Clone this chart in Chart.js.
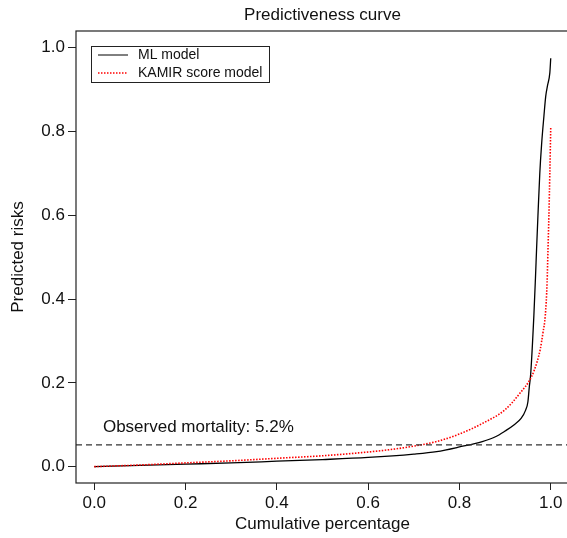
<!DOCTYPE html>
<html>
<head>
<meta charset="utf-8">
<title>Predictiveness curve</title>
<script src="https://cdn.jsdelivr.net/npm/chart.js@4/dist/chart.umd.min.js"></script>
<style>
  html, body { margin: 0; padding: 0; background: #fff; overflow: hidden; }
  #wrap { width: 567px; height: 538px; overflow: hidden; position: relative; }
  canvas { display: block; }
</style>
</head>
<body>
<div id="wrap"><canvas id="chart" width="600" height="538"></canvas></div>
<script>
// Predictiveness curves: x = cumulative percentage, y = predicted risk
const mlX = [0, 0.1, 0.2, 0.3, 0.4, 0.5, 0.6, 0.7, 0.75, 0.8, 0.85, 0.88, 0.9, 0.92, 0.935, 0.945,
             0.95, 0.953, 0.956, 0.963, 0.9665, 0.969, 0.972, 0.976, 0.98, 0.985, 0.989, 0.993, 0.998, 1.0];
const mlY = [0, 0.003, 0.006, 0.009, 0.013, 0.017, 0.022, 0.030, 0.036, 0.047, 0.060, 0.072, 0.085, 0.100, 0.115, 0.135,
             0.155, 0.19, 0.22, 0.36, 0.45, 0.52, 0.60, 0.70, 0.77, 0.836, 0.884, 0.91, 0.94, 0.975];

const kamirX = [0, 0.1, 0.2, 0.3, 0.4, 0.5, 0.6, 0.65, 0.7, 0.75, 0.8, 0.85, 0.9, 0.93, 0.958,
                0.97, 0.977, 0.983, 0.988, 0.992, 0.994, 0.996, 0.998, 1.0];
const kamirY = [0, 0.004, 0.009, 0.014, 0.020, 0.026, 0.035, 0.041, 0.049, 0.060, 0.078, 0.103, 0.136, 0.172, 0.215,
                0.25, 0.28, 0.32, 0.36, 0.44, 0.52, 0.60, 0.70, 0.81];

const observedMortality = 0.052;
const xTicks = [0, 0.2, 0.4, 0.6, 0.8, 1.0];
const yTicks = [0, 0.2, 0.4, 0.6, 0.8, 1.0];

const FONT = "'Liberation Sans', Arial, Helvetica, sans-serif";
const INK = "#111";

function pts(xs, ys) { return xs.map((x, i) => ({ x, y: ys[i] })); }

// box, title, axis titles, legend and the mortality note, base-R style
const decorations = {
  id: "decorations",
  afterDraw(chart) {
    const { ctx, chartArea: a, scales } = chart;
    ctx.save();
    ctx.strokeStyle = "#222";
    ctx.lineWidth = 1.2;
    ctx.strokeRect(a.left, a.top, a.right - a.left, a.bottom - a.top);

    ctx.fillStyle = INK;
    ctx.textAlign = "center";
    ctx.textBaseline = "middle";
    ctx.font = `17px ${FONT}`;
    ctx.fillText("Predictiveness curve", (a.left + a.right) / 2, 15);
    ctx.fillText("Cumulative percentage", (a.left + a.right) / 2, 524);

    ctx.save();
    ctx.translate(18, (a.top + a.bottom) / 2);
    ctx.rotate(-Math.PI / 2);
    ctx.fillText("Predicted risks", 0, 0);
    ctx.restore();

    ctx.textAlign = "left";
    ctx.fillText("Observed mortality: 5.2%",
      scales.x.getPixelForValue(0.019), scales.y.getPixelForValue(0.095));

    // legend
    ctx.strokeStyle = "#222";
    ctx.lineWidth = 1;
    ctx.strokeRect(91.5, 46.5, 178, 36);
    ctx.font = `14px ${FONT}`;
    ctx.beginPath();
    ctx.strokeStyle = "#000";
    ctx.moveTo(98, 55); ctx.lineTo(128, 55);
    ctx.stroke();
    ctx.beginPath();
    ctx.strokeStyle = "#ff0000";
    ctx.lineWidth = 1.4;
    ctx.setLineDash([1.5, 1.5]);
    ctx.moveTo(98, 73); ctx.lineTo(128, 73);
    ctx.stroke();
    ctx.setLineDash([]);
    ctx.fillText("ML model", 138, 55);
    ctx.fillText("KAMIR score model", 138, 73);
    ctx.restore();
  },
};

new Chart(document.getElementById("chart"), {
  type: "scatter",
  data: {
    datasets: [
      {
        label: "Observed mortality",
        data: [{ x: -0.04, y: observedMortality }, { x: 1.04, y: observedMortality }],
        showLine: true,
        borderColor: "#333",
        borderWidth: 1.2,
        borderDash: [6, 4],
        pointRadius: 0,
      },
      {
        label: "KAMIR score model",
        data: pts(kamirX, kamirY),
        showLine: true,
        borderColor: "#ff0000",
        borderWidth: 1.6,
        borderDash: [1.5, 1.5],
        cubicInterpolationMode: "monotone",
        pointRadius: 0,
      },
      {
        label: "ML model",
        data: pts(mlX, mlY),
        showLine: true,
        borderColor: "#000",
        borderWidth: 1.3,
        cubicInterpolationMode: "monotone",
        pointRadius: 0,
      },
    ],
  },
  options: {
    responsive: false,
    animation: false,
    layout: { padding: { top: 31, right: 31, left: 0, bottom: 0 } },
    plugins: { legend: { display: false }, tooltip: { enabled: false } },
    scales: {
      x: {
        type: "linear",
        min: -0.04,
        max: 1.04,
        afterFit: (s) => { s.height = 55; },
        afterBuildTicks: (s) => { s.ticks = xTicks.map(v => ({ value: v })); },
        border: { display: false },
        grid: { drawOnChartArea: false, drawTicks: true, tickLength: 7, color: "#222" },
        ticks: {
          color: INK,
          font: { family: FONT, size: 17 },
          padding: 3,
          maxRotation: 0,
          callback: (v) => Number(v).toFixed(1),
        },
      },
      y: {
        type: "linear",
        min: -0.039,
        max: 1.04,
        afterFit: (s) => { s.width = 76; },
        afterBuildTicks: (s) => { s.ticks = yTicks.map(v => ({ value: v })); },
        border: { display: false },
        grid: { drawOnChartArea: false, drawTicks: true, tickLength: 8, color: "#222" },
        ticks: {
          color: INK,
          font: { family: FONT, size: 17 },
          padding: 3,
          callback: (v) => Number(v).toFixed(1),
        },
      },
    },
  },
  plugins: [decorations],
});
</script>
</body>
</html>
